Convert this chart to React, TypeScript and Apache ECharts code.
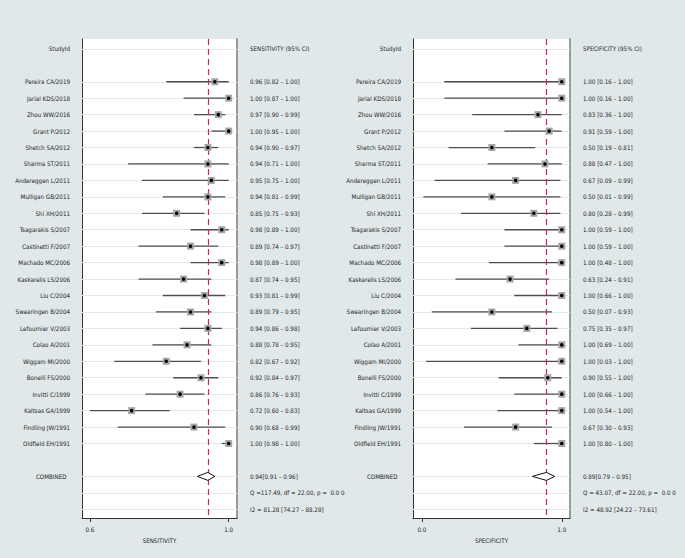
import React, { useEffect, useRef } from "react";
import * as echarts from "echarts";

const studies = [
  "Pereira CA/2019", "Jarial KDS/2018", "Zhou WW/2016", "Grant P/2012", "Shetch SA/2012",
  "Sharma ST/2011", "Andereggen L/2011", "Mulligan GB/2011", "Shi XH/2011", "Tsagarakis S/2007",
  "Castinetti F/2007", "Machado MC/2006", "Kaskarelis LS/2006", "Liu C/2004", "Swearingen B/2004",
  "Lefournier V/2003", "Colao A/2001", "Wiggam MI/2000", "Bonelli FS/2000", "Invitti C/1999",
  "Kaltsas GA/1999", "Findling JW/1991", "Oldfield EH/1991",
];

const sensEst = [0.96, 1.0, 0.97, 1.0, 0.94, 0.94, 0.95, 0.94, 0.85, 0.98, 0.89, 0.98, 0.87, 0.93, 0.89, 0.94, 0.88, 0.82, 0.92, 0.86, 0.72, 0.9, 1.0];
const sensLo = [0.82, 0.87, 0.9, 0.95, 0.9, 0.71, 0.75, 0.81, 0.75, 0.89, 0.74, 0.89, 0.74, 0.81, 0.79, 0.86, 0.78, 0.67, 0.84, 0.76, 0.6, 0.68, 0.98];
const sensHi = [1.0, 1.0, 0.99, 1.0, 0.97, 1.0, 1.0, 0.99, 0.93, 1.0, 0.97, 1.0, 0.95, 0.99, 0.95, 0.98, 0.95, 0.92, 0.97, 0.93, 0.83, 0.99, 1.0];

const specEst = [1.0, 1.0, 0.83, 0.91, 0.5, 0.88, 0.67, 0.5, 0.8, 1.0, 1.0, 1.0, 0.63, 1.0, 0.5, 0.75, 1.0, 1.0, 0.9, 1.0, 1.0, 0.67, 1.0];
const specLo = [0.16, 0.16, 0.36, 0.59, 0.19, 0.47, 0.09, 0.01, 0.28, 0.59, 0.59, 0.48, 0.24, 0.66, 0.07, 0.35, 0.69, 0.03, 0.55, 0.66, 0.54, 0.3, 0.8];
const specHi = [1.0, 1.0, 1.0, 1.0, 0.81, 1.0, 0.99, 0.99, 0.99, 1.0, 1.0, 1.0, 0.91, 1.0, 0.93, 0.97, 1.0, 1.0, 1.0, 1.0, 1.0, 0.93, 1.0];

const sensCombined = [0.94, 0.91, 0.96];
const specCombined = [0.89, 0.79, 0.95];
const sensStats = ["Q =117.49, df = 22.00, p =  0.0 0", "I2 = 81.28 [74.27 – 88.28]"];
const specStats = ["Q = 43.07, df = 22.00, p =  0.0 0", "I2 = 48.92 [24.22 – 73.61]"];

const sensTicks = [0.6, 1.0];
const specTicks = [0.0, 1.0];

const FONT = "'Liberation Sans Narrow', 'DejaVu Sans Condensed', 'Roboto Condensed', sans-serif";
const FS = 6.2;
const BG = "#e1e8e9";
const HEADER_ROW = 0;
const FIRST_ROW = 2;
const COMBINED_ROW = FIRST_ROW + studies.length + 1;
const Q_ROW = COMBINED_ROW + 1;
const I2_ROW = COMBINED_ROW + 2;
const Y_MIN = -0.6;
const Y_MAX = I2_ROW + 0.53;

const fmt = (e: number, l: number, h: number) => `${e.toFixed(2)} [${l.toFixed(2)} – ${h.toFixed(2)}]`;

function buildPanel(idx: number, est: number[], lo: number[], hi: number[], comb: number[], stats: string[], header: string, title: string, ticks: number[], xmin: number, xmax: number) {
  const leftLabels: Record<number, string> = { [HEADER_ROW]: "StudyId", [COMBINED_ROW]: "COMBINED  " };
  const rightLabels: Record<number, string> = {
    [HEADER_ROW]: header,
    [COMBINED_ROW]: `${comb[0].toFixed(2)}[${comb[1].toFixed(2)} – ${comb[2].toFixed(2)}]`,
    [Q_ROW]: stats[0],
    [I2_ROW]: stats[1],
  };
  studies.forEach((s, i) => {
    leftLabels[FIRST_ROW + i] = s;
    rightLabels[FIRST_ROW + i] = fmt(est[i], lo[i], hi[i]);
  });
  const leftRows = Object.keys(leftLabels).map(Number);
  const rightRows = Object.keys(rightLabels).map(Number);
  const gridRows = rightRows;

  const xAxis = {
    gridIndex: idx, type: "value", min: xmin, max: xmax,
    axisLine: { show: true, onZero: false, lineStyle: { color: "#333", width: 1 } },
    axisTick: { show: true, customValues: ticks, length: 4, lineStyle: { color: "#333" } },
    axisLabel: { customValues: ticks, formatter: (v: number) => v.toFixed(1), fontSize: FS, color: "#222", margin: 8, fontFamily: FONT },
    splitLine: { show: false },
    name: title, nameLocation: "middle", nameGap: 19,
    nameTextStyle: { fontSize: FS, color: "#222", fontFamily: FONT },
  };
  const yBase = { gridIndex: idx, type: "value", inverse: true, min: Y_MIN, max: Y_MAX, splitLine: { show: false }, axisTick: { show: false } };
  const yLeft = {
    ...yBase, position: "left",
    axisLine: { show: true, onZero: false, lineStyle: { color: "#333", width: 1 } },
    axisLabel: { customValues: leftRows, formatter: (v: number) => leftLabels[v] ?? "", fontSize: FS, color: "#222", margin: 12, fontFamily: FONT },
  };
  const yRight = {
    ...yBase, position: "right",
    axisLine: { show: true, onZero: false, lineStyle: { color: "#9a9a9a", width: 2 } },
    axisLabel: { customValues: rightRows, formatter: (v: number) => rightLabels[v] ?? "", fontSize: FS, color: "#222", margin: 13, align: "left", fontFamily: FONT },
  };

  const ciData = est.map((_, i) => [lo[i], hi[i], FIRST_ROW + i]);
  const ptData = est.map((e, i) => [e, FIRST_ROW + i]);

  const series = [
    {
      type: "custom", xAxisIndex: idx, yAxisIndex: idx * 2, z: 1, silent: true,
      data: [[comb[0], 0]],
      renderItem: () => ({ type: "group", children: [] }),
      markLine: {
        silent: true, z: 1, symbol: ["none", "none"], label: { show: false },
        lineStyle: { color: "#e2e9eb", width: 1, type: "solid" },
        data: gridRows.map((r) => ({ yAxis: r })),
      },
    },
    {
      type: "custom", xAxisIndex: idx, yAxisIndex: idx * 2, z: 2, silent: true,
      data: ciData, encode: { x: [0, 1], y: 2 },
      renderItem: (params: any, api: any) => {
        const p1 = api.coord([api.value(0), api.value(2)]);
        const p2 = api.coord([api.value(1), api.value(2)]);
        return { type: "line", shape: { x1: p1[0], y1: p1[1], x2: p2[0], y2: p2[1] }, style: { stroke: "#4d4d4d", lineWidth: 1.3 } };
      },
    },
    {
      type: "custom", xAxisIndex: idx, yAxisIndex: idx * 2, z: 3, silent: true,
      data: [[comb[0], 0]],
      renderItem: () => ({ type: "group", children: [] }),
      markLine: {
        silent: true, z: 3, symbol: ["none", "none"], label: { show: false },
        lineStyle: { color: "#cc2a4a", width: 1.2, type: [6, 4] },
        data: [{ xAxis: comb[0] }],
      },
    },
    {
      type: "custom", xAxisIndex: idx, yAxisIndex: idx * 2, z: 4, silent: true,
      data: ptData, encode: { x: 0, y: 1 },
      renderItem: (params: any, api: any) => {
        const p = api.coord([api.value(0), api.value(1)]);
        return {
          type: "group",
          children: [
            { type: "rect", shape: { x: p[0] - 3.5, y: p[1] - 3.5, width: 7, height: 7 }, style: { fill: "#a6a6a6" } },
            { type: "circle", shape: { cx: p[0], cy: p[1], r: 1.8 }, style: { fill: "#000" } },
          ],
        };
      },
    },
    {
      type: "custom", xAxisIndex: idx, yAxisIndex: idx * 2, z: 4, silent: true,
      data: [[comb[0], comb[1], comb[2], COMBINED_ROW]],
      renderItem: (params: any, api: any) => {
        const row = api.value(3);
        const c = api.coord([api.value(0), row]);
        const l = api.coord([api.value(1), row]);
        const h = api.coord([api.value(2), row]);
        return {
          type: "polygon",
          shape: { points: [[l[0], l[1]], [c[0], c[1] - 4], [h[0], h[1]], [c[0], c[1] + 4]] },
          style: { fill: "#fff", stroke: "#111", lineWidth: 1 },
        };
      },
    },
  ];
  return { xAxis, yAxes: [yLeft, yRight], series };
}

export default function App() {
  const ref = useRef<HTMLDivElement>(null);
  useEffect(() => {
    if (!ref.current) return;
    const chart = echarts.init(ref.current, undefined, { renderer: "svg" });
    const a = buildPanel(0, sensEst, sensLo, sensHi, sensCombined, sensStats, "SENSITIVITY (95% CI)", "SENSITIVITY", sensTicks, 0.577, 1.024);
    const b = buildPanel(1, specEst, specLo, specHi, specCombined, specStats, "SPECIFICITY (95% CI)", "SPECIFICITY", specTicks, -0.064, 1.059);
    const option: any = {
      animation: false,
      backgroundColor: BG,
      textStyle: { fontFamily: FONT },
      grid: [
        { left: 82, right: 448, top: 39, bottom: 40, show: true, backgroundColor: "#fff", borderWidth: 0 },
        { left: 413, right: 115, top: 39, bottom: 40, show: true, backgroundColor: "#fff", borderWidth: 0 },
      ],
      xAxis: [a.xAxis, b.xAxis],
      yAxis: [...a.yAxes, ...b.yAxes],
      series: [...a.series, ...b.series],
    };
    chart.setOption(option);
    return () => chart.dispose();
  }, []);
  return <div ref={ref} style={{ position: "fixed", left: 0, top: 0, width: 685, height: 558 }} />;
}
